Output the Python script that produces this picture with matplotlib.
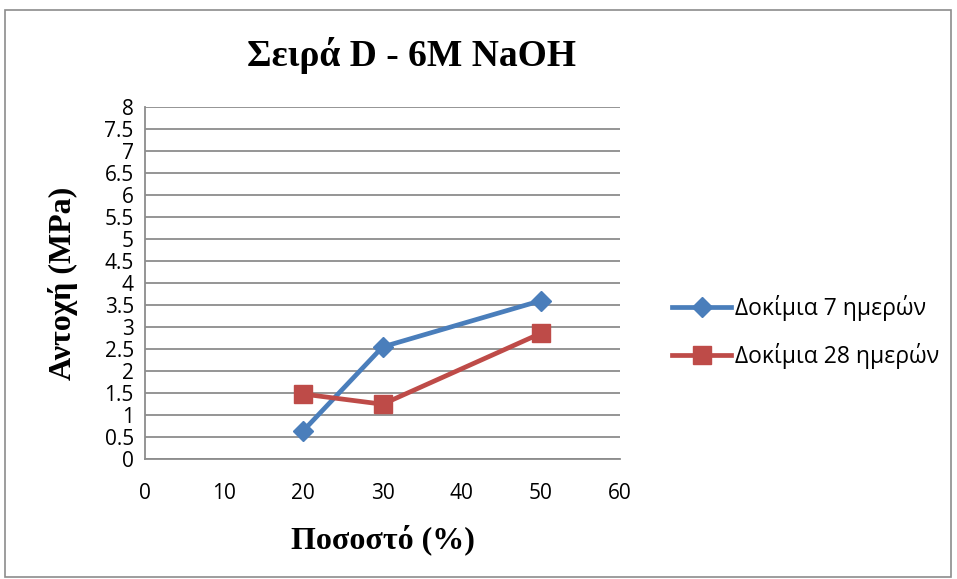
import numpy as np
import matplotlib.pyplot as plt
from matplotlib.patches import Rectangle

# percentages and strength values (MPa)
pososto = [20, 30, 50]
antoxi_7 = [0.65, 2.55, 3.60]
antoxi_28 = [1.48, 1.25, 2.86]
y_ticks = np.arange(0, 8.01, 0.5)
x_ticks = [0, 10, 20, 30, 40, 50, 60]

fig = plt.figure(figsize=(9.57, 5.79), dpi=100)
fig.patches.append(Rectangle((0.005, 0.003), 0.989, 0.98, transform=fig.transFigure,
                             fill=False, edgecolor='#8c8c8c', linewidth=1.2))

ax = fig.add_axes([0.1515, 0.2067, 0.4965, 0.609])
ax.plot(pososto, antoxi_7, color='#4a7ebb', lw=3.4, marker='D', ms=10,
        label='Δοκίμια 7 ημερών')
ax.plot(pososto, antoxi_28, color='#be4b48', lw=3.4, marker='s', ms=13,
        label='Δοκίμια 28 ημερών')

ax.set_xlim(0, 60)
ax.set_ylim(0, 8)
ax.set_xticks(x_ticks)
ax.set_yticks(y_ticks)
ax.set_yticklabels(['%g' % v for v in y_ticks])
ax.grid(axis='y', color='#8c8c8c', lw=1.3)
ax.set_axisbelow(True)
for s in ['top', 'right']:
    ax.spines[s].set_visible(False)
for s in ['left', 'bottom']:
    ax.spines[s].set_color('#8c8c8c')
    ax.spines[s].set_linewidth(1.3)
ax.tick_params(axis='y', length=0, labelsize=15, pad=8)
ax.tick_params(axis='x', length=0, labelsize=15, pad=17)
for lab in ax.get_xticklabels() + ax.get_yticklabels():
    lab.set_family('Open Sans')

serif = dict(family='Liberation Serif', weight='bold')
fig.text(0.43, 0.905, 'Σειρά D - 6M NaOH', ha='center', va='center', fontsize=27, **serif)
ax.set_xlabel('Ποσοστό (%)', fontsize=23, labelpad=15, **serif)
ax.set_ylabel('Αντοχή (MPa)', fontsize=23, labelpad=19, **serif)

leg = ax.legend(loc='center left', bbox_to_anchor=(0.702, 0.4266),
                bbox_transform=fig.transFigure, frameon=False,
                borderpad=0, borderaxespad=0,
                prop={'family': 'Open Sans', 'size': 16.5}, handlelength=2.6,
                handletextpad=0.15, labelspacing=0.95, markerscale=1.0)

fig.savefig('out.png', dpi=100)
